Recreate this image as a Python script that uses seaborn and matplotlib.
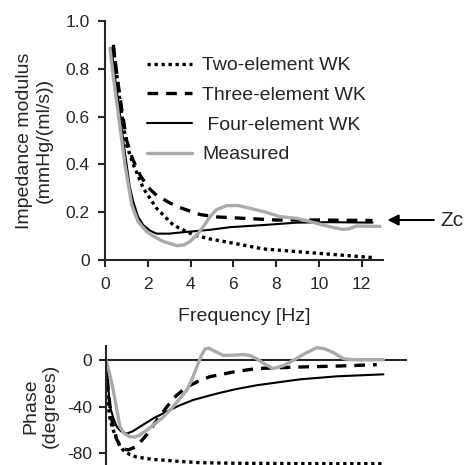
import matplotlib
matplotlib.use("Agg")
import matplotlib.pyplot as plt
import seaborn as sns
import pandas as pd

# impedance modulus
two_f = [0.39, 0.6, 0.78, 1.01, 1.32, 1.79, 2.41, 3.19, 4.13, 4.9, 6.0, 7.4, 8.96, 10.5, 12.5]
two_z = [0.89, 0.74, 0.61, 0.48, 0.40, 0.30, 0.216, 0.146, 0.105, 0.088, 0.07, 0.046, 0.035, 0.024, 0.01]

three_f = [0.39, 0.55, 0.7, 1.01, 1.3, 1.64, 2.0, 2.41, 3.0, 3.5, 4.44, 5.2, 6.07, 8.0, 9.9, 12.5]
three_z = [0.90, 0.78, 0.68, 0.50, 0.42, 0.355, 0.305, 0.27, 0.24, 0.219, 0.19, 0.18, 0.176, 0.167, 0.167, 0.165]

four_f = [0.31, 0.5, 0.7, 0.85, 1.01, 1.15, 1.32, 1.55, 1.79, 2.1, 2.41, 3.0, 3.66, 4.9, 5.84, 7.4, 8.96, 10.5, 12.5]
four_z = [0.886, 0.74, 0.61, 0.50, 0.40, 0.31, 0.244, 0.18, 0.146, 0.123, 0.11, 0.11, 0.116, 0.126, 0.137, 0.146, 0.156, 0.158, 0.156]

meas_f = [0.23, 0.4, 0.62, 0.8, 0.93, 1.1, 1.25, 1.55, 1.95, 2.35, 2.73, 3.35, 3.7, 3.97, 4.3, 4.6, 4.9, 5.2,
          5.69, 6.2, 6.78, 7.5, 8.18, 8.96, 9.6, 10.2, 10.7, 11.1, 11.4, 11.76, 12.85]
meas_z = [0.886, 0.76, 0.61, 0.49, 0.40, 0.31, 0.23, 0.16, 0.118, 0.095, 0.077, 0.06, 0.063, 0.077, 0.105, 0.14, 0.18, 0.21,
          0.227, 0.228, 0.216, 0.20, 0.181, 0.174, 0.16, 0.146, 0.135, 0.128, 0.13, 0.142, 0.14]

# phase
two_pf = [0.0, 0.05, 0.11, 0.2, 0.34, 0.5, 0.65, 0.85, 1.12, 1.4, 1.74, 2.2, 2.84, 3.5, 4.4, 6.0, 8.0, 10.0, 12.9]
two_ph = [0.0, -20.0, -40.0, -52.0, -60.0, -68.0, -74.0, -78.0, -81.0, -83.0, -84.0, -85.2, -86.0, -87.0, -88.0, -88.5, -88.7, -88.8, -88.9]

three_pf = [0.0, 0.1, 0.25, 0.5, 0.75, 1.04, 1.43, 1.9, 2.4, 2.84, 3.3, 3.77, 4.3, 4.86, 5.95, 7.04, 9.07, 10.8, 12.65]
three_ph = [0.0, -25.0, -50.0, -68.0, -76.0, -77.0, -74.0, -64.0, -51.0, -40.0, -30.0, -23.0, -18.0, -14.0, -10.0, -7.0, -5.7, -4.9, -3.7]

four_pf = [0.0, 0.1, 0.19, 0.35, 0.5, 0.7, 0.97, 1.25, 1.59, 2.2, 2.84, 3.4, 4.08, 5.17, 6.0, 7.04, 9.07, 10.8, 12.96]
four_ph = [0.0, -22.0, -40.0, -50.0, -57.0, -61.0, -63.0, -61.0, -57.0, -50.0, -44.0, -39.0, -34.0, -28.6, -25.0, -21.4, -16.3, -13.7, -12.0]

meas_pf = [0.0, 0.15, 0.34, 0.5, 0.65, 0.85, 1.12, 1.35, 1.59, 1.9, 2.21, 2.6, 2.99, 3.4, 3.77, 4.0, 4.24, 4.45, 4.63, 4.8,
           5.0, 5.48, 6.0, 6.4, 6.73, 7.04, 7.4, 7.8, 8.3, 8.75, 9.3, 9.85, 10.2, 10.6, 11.1, 11.6, 12.96]
meas_ph = [0.0, -10.0, -25.7, -42.0, -57.0, -63.0, -65.7, -66.0, -64.0, -60.0, -55.7, -50.0, -42.9, -34.0, -25.7, -17.0, -5.7, 4.0, 10.0, 10.5,
           8.6, 4.3, 4.5, 5.0, 4.3, 1.4, -3.0, -7.0, -4.5, 0.0, 6.0, 10.9, 10.0, 7.0, 1.4, 0.5, 0.6]

labels = ["Two-element WK", "Three-element WK", " Four-element WK", "Measured"]
styles = [
    dict(color="black", lw=2.4, linestyle=(0, (1, 1.1))),
    dict(color="black", lw=2.4, linestyle=(0, (3.2, 2.4))),
    dict(color="black", lw=1.5, linestyle="-"),
    dict(color="#aaaaaa", lw=2.4, linestyle="-"),
]

mod_data = [(two_f, two_z), (three_f, three_z), (four_f, four_z), (meas_f, meas_z)]
ph_data = [(two_pf, two_ph), (three_pf, three_ph), (four_pf, four_ph), (meas_pf, meas_ph)]

sns.set_style("ticks")
plt.rcParams['font.family'] = ['Liberation Sans', 'DejaVu Sans']
plt.rcParams['axes.unicode_minus'] = False
plt.rcParams['axes.linewidth'] = 1.5
plt.rcParams['xtick.major.width'] = 1.5
plt.rcParams['ytick.major.width'] = 1.5
plt.rcParams['xtick.major.size'] = 5
plt.rcParams['ytick.major.size'] = 5

fig = plt.figure(figsize=(4.66, 4.65), dpi=100)

# --- impedance modulus ---
ax = fig.add_axes([0.2253, 0.441, 0.597, 0.514])
for (f, v), lab, st in zip(mod_data, labels, styles):
    df = pd.DataFrame({"f": f, "v": v})
    sns.lineplot(data=df, x="f", y="v", ax=ax, label=lab, **st)

ax.set_xlim(0, 13)
ax.set_ylim(0, 1.0)
ax.set_xticks([0, 2, 4, 6, 8, 10, 12])
ax.set_yticks([0, 0.2, 0.4, 0.6, 0.8, 1.0])
ax.set_yticklabels(["0", "0.2", "0.4", "0.6", "0.8", "1.0"])
ax.tick_params(axis="y", labelsize=12.5, pad=6)
ax.tick_params(axis="x", labelsize=12.5, pad=7)
ax.set_xlabel("Frequency [Hz]", fontsize=14, labelpad=12)
ax.set_ylabel("Impedance modulus\n(mmHg/(ml/s))", fontsize=14, labelpad=9)
sns.despine(ax=ax)

ax.legend(loc="upper left", bbox_to_anchor=(0.151, 0.85), frameon=False, fontsize=14,
          handlelength=2.3, handletextpad=0.55, labelspacing=0.62, borderpad=0, borderaxespad=0)

ax.annotate("Zc", xy=(13.2, 0.167), xytext=(15.65, 0.167), xycoords="data", textcoords="data",
            fontsize=15, ha="left", va="center", annotation_clip=False,
            arrowprops=dict(arrowstyle="-|>", color="black", lw=1.5, mutation_scale=16, shrinkA=2, shrinkB=0))

# --- phase ---
ax2 = fig.add_axes([0.2275, 0.0, 0.643, 0.255])
for (f, v), st in zip(ph_data, styles):
    df = pd.DataFrame({"f": f, "v": v})
    sns.lineplot(data=df, x="f", y="v", ax=ax2, **st)

ax2.set_xlim(0, 14)
ax2.set_ylim(-90, 12)
ax2.spines["bottom"].set_position(("data", 0))
ax2.spines["bottom"].set_zorder(0)
ax2.set_xticks([])
ax2.set_xlabel("")
ax2.set_yticks([0, -40, -80])
ax2.tick_params(axis="y", labelsize=12.5, pad=5)
ax2.set_ylabel("Phase\n(degrees)", fontsize=14, labelpad=6)
sns.despine(ax=ax2)

fig.savefig("out.png", dpi=100)
